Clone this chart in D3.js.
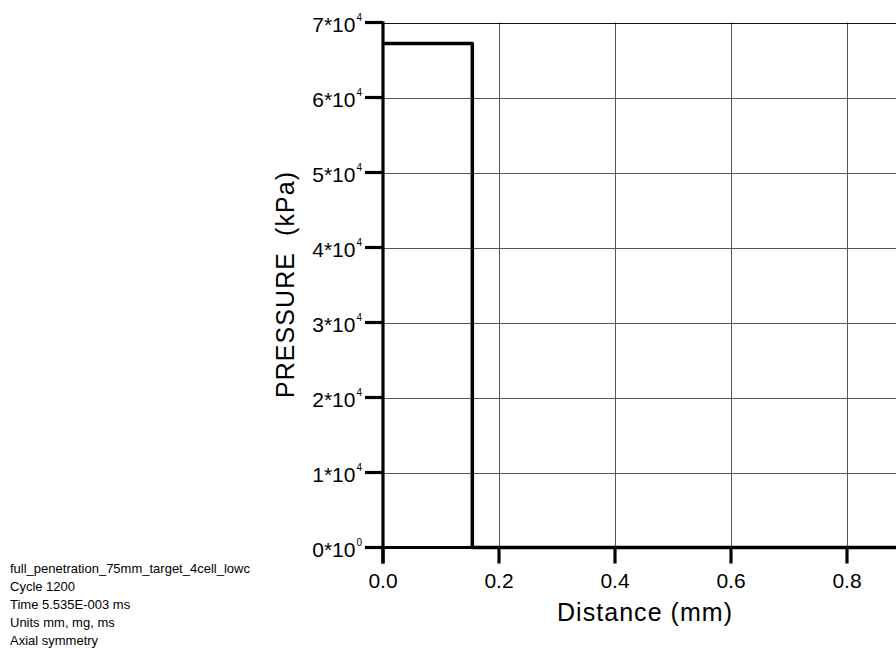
<!DOCTYPE html>
<html>
<head>
<meta charset="utf-8">
<script src="https://cdn.jsdelivr.net/npm/d3@7/dist/d3.min.js"></script>
<style>
  html, body { margin: 0; padding: 0; background: #fff; }
  svg { display: block; }
  text { font-family: "Liberation Sans", Arial, sans-serif; fill: #000; white-space: pre; }
</style>
</head>
<body>
<svg id="chart" width="896" height="657"></svg>
<script>
// Pressure profile along the axis (distance in mm, pressure in kPa)
const distance = [0.0, 0.154, 0.154, 1.0];
const pressure = [67200, 67200, 0, 0];

// Axis ticks
const xTicks = [0.0, 0.2, 0.4, 0.6, 0.8];
const xTickLabels = ["0.0", "0.2", "0.4", "0.6", "0.8"];
const yTicks = [0, 10000, 20000, 30000, 40000, 50000, 60000, 70000];
const yTickMantissa = ["0", "1", "2", "3", "4", "5", "6", "7"];
const yTickExponent = ["0", "4", "4", "4", "4", "4", "4", "4"];

// Titles and run information
const xTitle = "Distance (mm)";
const yTitle = "PRESSURE  (kPa)";
const runInfo = [
  "full_penetration_75mm_target_4cell_lowc",
  "Cycle 1200",
  "Time 5.535E-003 ms",
  "Units mm, mg, ms",
  "Axial symmetry"
];

const svg = d3.select("#chart");
const x = d3.scaleLinear().domain([0, 1]).range([383, 963]);
const y = d3.scaleLinear().domain([0, 70000]).range([547.5, 22.5]);

// Grid
const grid = svg.append("g");
grid.selectAll("line.v").data(xTicks.slice(1)).join("line")
  .attr("x1", d => Math.round(x(d)) + 0.5).attr("x2", d => Math.round(x(d)) + 0.5)
  .attr("y1", y(70000)).attr("y2", y(0))
  .attr("stroke", "#555").attr("stroke-width", 1);
grid.selectAll("line.h").data(yTicks.slice(1)).join("line")
  .attr("x1", x(0)).attr("x2", x(1))
  .attr("y1", d => Math.round(y(d)) + 0.5).attr("y2", d => Math.round(y(d)) + 0.5)
  .attr("stroke", d => d === 70000 ? "#111" : "#555").attr("stroke-width", 1);

// Axes (thick lines with outward ticks)
const axisW = 3.2;
svg.append("line")
  .attr("x1", x(0)).attr("x2", x(0)).attr("y1", y(70000) - 1).attr("y2", y(0) + 16)
  .attr("stroke", "#000").attr("stroke-width", axisW);
svg.append("line")
  .attr("x1", x(0) - 18).attr("x2", x(1)).attr("y1", y(0)).attr("y2", y(0))
  .attr("stroke", "#000").attr("stroke-width", axisW);

// X ticks and labels
const xg = svg.append("g");
xg.selectAll("line").data(xTicks).join("line")
  .attr("x1", d => x(d)).attr("x2", d => x(d))
  .attr("y1", y(0)).attr("y2", y(0) + 16)
  .attr("stroke", "#000").attr("stroke-width", axisW);
xg.selectAll("text").data(xTicks).join("text")
  .attr("x", d => x(d)).attr("y", 588)
  .attr("text-anchor", "middle")
  .style("font-size", "21px")
  .text((d, i) => xTickLabels[i]);

// Y ticks and labels (mantissa*10 with superscript exponent)
const yg = svg.append("g");
yg.selectAll("line").data(yTicks).join("line")
  .attr("x1", x(0) - 18).attr("x2", x(0))
  .attr("y1", d => y(d)).attr("y2", d => y(d))
  .attr("stroke", "#000").attr("stroke-width", axisW);
const yl = yg.selectAll("text").data(yTicks).join("text")
  .attr("x", 362).attr("y", d => y(d) + 9)
  .attr("text-anchor", "end")
  .style("font-size", "21px");
yl.append("tspan").text((d, i) => yTickMantissa[i] + "*10");
yl.append("tspan").attr("dx", 1).attr("dy", -11).style("font-size", "10px").text((d, i) => yTickExponent[i]);

// Pressure curve
const line = d3.line().x(d => x(d[0])).y(d => y(d[1]));
svg.append("path")
  .datum(distance.map((d, i) => [d, pressure[i]]))
  .attr("d", line)
  .attr("fill", "none").attr("stroke", "#000")
  .attr("stroke-width", 3.5).attr("stroke-linejoin", "round");

// Axis titles
svg.append("text")
  .attr("x", 644.5).attr("y", 621)
  .attr("text-anchor", "middle")
  .attr("textLength", 175).attr("lengthAdjust", "spacing")
  .style("font-size", "25px")
  .text(xTitle);
svg.append("text")
  .attr("transform", `translate(294,${(y(0) + y(70000)) / 2}) rotate(-90)`)
  .attr("text-anchor", "middle")
  .attr("textLength", 226).attr("lengthAdjust", "spacing")
  .attr("xml:space", "preserve")
  .style("font-size", "25px")
  .text(yTitle);

// Run information block
svg.append("g").selectAll("text").data(runInfo).join("text")
  .attr("x", 10).attr("y", (d, i) => 573 + i * 18)
  .style("font-size", "13px")
  .text(d => d);
</script>
</body>
</html>
